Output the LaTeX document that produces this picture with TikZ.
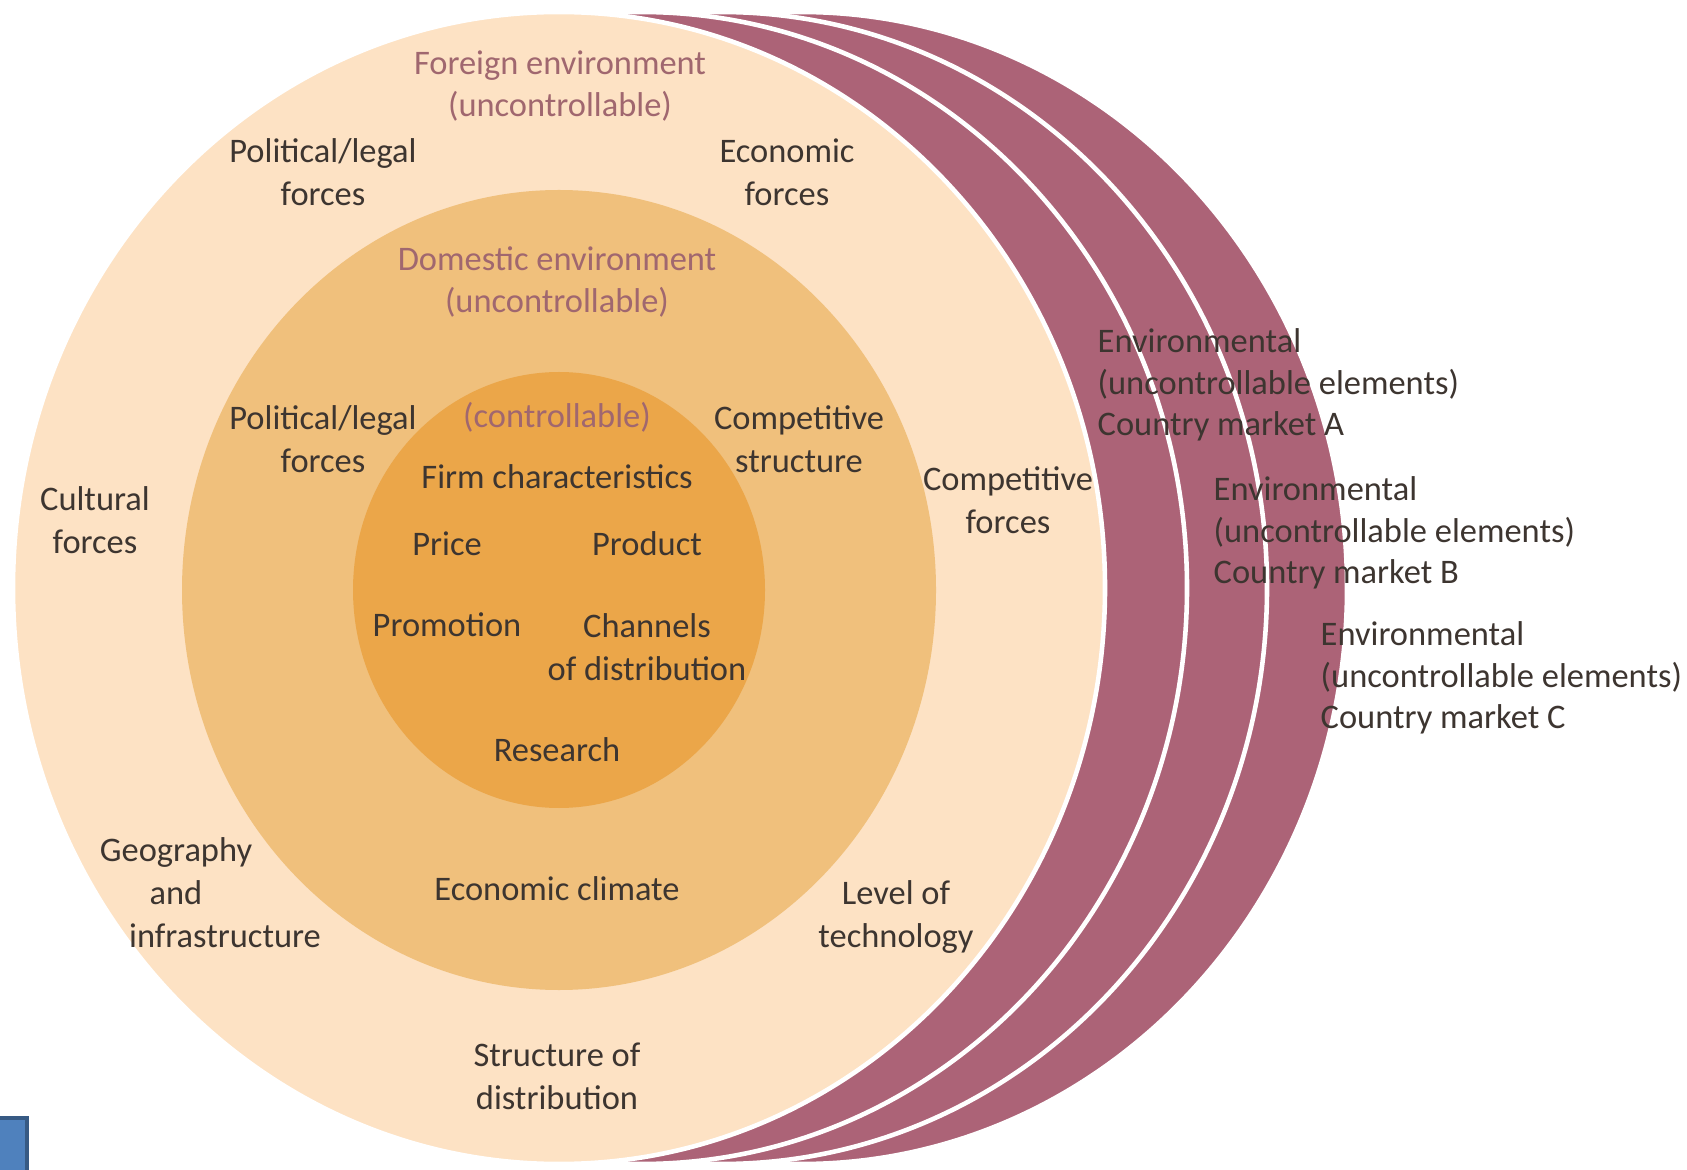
\documentclass[tikz,border=0pt]{standalone}
\usepackage{fontspec}
\setmainfont{Carlito}
\usetikzlibrary{positioning}
\definecolor{Peach}{HTML}{FDE2C4}
\definecolor{Sand}{HTML}{F0C07C}
\definecolor{Amber}{HTML}{EBA649}
\definecolor{Plum}{HTML}{AC6377}
\definecolor{Ink}{HTML}{3D3530}
\definecolor{Mauve}{HTML}{A0676F}
\definecolor{Tile}{HTML}{4F81BD}
\tikzstyle{Market} = [fill=Plum, draw=white, line width=1.3pt]
\tikzstyle{Force} = [text=Ink, align=center, inner sep=0pt,
font=\fontsize{9.8}{12.2}\selectfont]
\tikzstyle{Heading} = [Force, text=Mauve]
\tikzstyle{Country} = [Force, align=left, anchor=west,
font=\fontsize{9.8}{11.8}\selectfont]

\begin{document}
\begin{tikzpicture}
    \useasboundingbox (0,0) rectangle (16.87,11.69);
    \foreach \dx in {2.42,1.62,0.82}
        \draw [Market] (5.59+\dx,5.81) ellipse [x radius=5.46, y radius=5.76];
    \draw [fill=Peach, draw=white, line width=1.3pt] (5.59,5.81) ellipse [x radius=5.46, y radius=5.76];
    \fill [Sand] (5.59,5.79) ellipse [x radius=3.77, y radius=4.00];
    \fill [Amber] (5.59,5.79) ellipse [x radius=2.06, y radius=2.18];
    \node [Heading] (1) at (5.60,10.83) {Foreign environment\\(uncontrollable)};
    \node [Force] (2) at (3.23,9.97) {Political/legal\\forces};
    \node [Force] (3) at (7.87,9.97) {Economic\\forces};
    \node [Force] (4) at (0.95,6.49) {Cultural\\forces};
    \node [Force] (5) at (10.08,6.69) {Competitive\\forces};
    \node [Force] (6) at (1.76,2.76) {Geography\\and\\\hspace*{0.98cm}infrastructure};
    \node [Force] (7) at (8.96,2.52) {Level of\\technology};
    \node [Force] (8) at (5.57,0.93) {Structure of\\distribution};
    \node [Heading] (9) at (5.57,8.87) {Domestic environment\\(uncontrollable)};
    \node [Force] (10) at (3.23,7.30) {Political/legal\\forces};
    \node [Force] (11) at (7.99,7.30) {Competitive\\structure};
    \node [Force] (12) at (5.57,2.80) {Economic climate};
    \node [Heading] (13) at (5.57,7.52) {(controllable)};
    \node [Force] (14) at (5.57,6.92) {Firm characteristics};
    \node [Force] (15) at (4.47,6.25) {Price};
    \node [Force] (16) at (6.47,6.25) {Product};
    \node [Force] (17) at (4.47,5.44) {Promotion};
    \node [Force] (18) at (6.47,5.22) {Channels\\of distribution};
    \node [Force] (19) at (5.57,4.19) {Research};
    \node [Country] (20) at (10.97,7.84) {Environmental\\(uncontrollable elements)\\Country market A};
    \node [Country] (21) at (12.13,6.36) {Environmental\\(uncontrollable elements)\\Country market B};
    \node [Country] (22) at (13.20,4.91) {Environmental\\(uncontrollable elements)\\Country market C};
    \draw [fill=Tile, draw=Tile!70!black, line width=1pt] (-0.1,-0.1) rectangle (0.27,0.51);
\end{tikzpicture}
\end{document}
